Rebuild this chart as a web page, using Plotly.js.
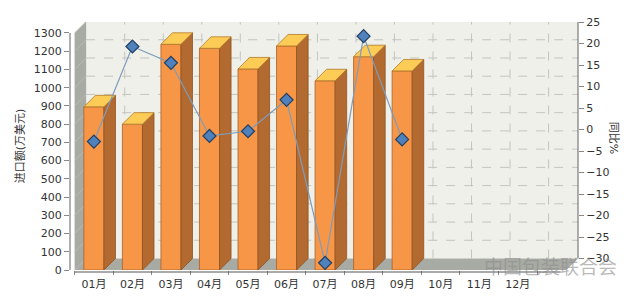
<!DOCTYPE html>
<html>
<head>
<meta charset="utf-8">
<script src="https://cdn.plot.ly/plotly-3.0.1.min.js"></script>
<style>
html,body{margin:0;padding:0;background:#fff;}
#chart{width:640px;height:302px;}
</style>
</head>
<body>
<div id="chart"></div>
<script>
// ---- data ----
const months = ['01月','02月','03月','04月','05月','06月','07月','08月','09月','10月','11月','12月'];
const importValues = [895, 800, 1238, 1216, 1103, 1229, 1038, 1170, 1092];
const yoyValues = [-2.8, 19.3, 15.5, -1.5, -0.4, 6.9, -31.0, 21.7, -2.3];
const leftTicks = [0,100,200,300,400,500,600,700,800,900,1000,1100,1200,1300];
const rightTicks = [-30,-25,-20,-15,-10,-5,0,5,10,15,20,25];

// ---- geometry (category units / left-axis units) ----
const DX = 0.30;      // depth offset in category units
const DY = 63;        // depth offset in left-axis units
const BW = 0.52;      // bar width
const XMIN = -0.62, XMAX = 12.564;
const YMAX = 1360.3;
const Y2MIN = -32.67, Y2MAX = 25;
const XL = -0.5, XR = XMAX - DX;
const LEFT_TOP = leftTicks[leftTicks.length-1];

const idx = importValues.map((_, i) => i);

// top and side faces of the 3D bars
const topX = [], topY = [], sideX = [], sideY = [];
importValues.forEach((v, i) => {
  const x0 = i - BW/2, x1 = i + BW/2;
  topX.push(x0, x1, x1+DX, x0+DX, x0, null);
  topY.push(v, v, v+DY, v+DY, v, null);
  sideX.push(x1, x1+DX, x1+DX, x1, x1, null);
  sideY.push(0, DY, v+DY, v, 0, null);
});

const traces = [
  {type:'bar', x: idx, y: importValues, width: BW, xaxis:'x', yaxis:'y',
   marker:{color:'#f79646', line:{color:'#a8612a', width:0.8}}, hoverinfo:'skip'},
  {type:'scatter', mode:'lines', x: sideX, y: sideY, fill:'toself', fillcolor:'#b36a30',
   line:{color:'#8f5322', width:0.8}, xaxis:'x', yaxis:'y', hoverinfo:'skip'},
  {type:'scatter', mode:'lines', x: topX, y: topY, fill:'toself', fillcolor:'#fdcc56',
   line:{color:'#b07a2a', width:0.8}, xaxis:'x', yaxis:'y', hoverinfo:'skip'},
  {type:'scatter', mode:'lines+markers', x: idx, y: yoyValues, xaxis:'x', yaxis:'y2',
   line:{color:'#7d9cbd', width:1.2},
   marker:{symbol:'diamond', size:10, color:'#4f81bd', line:{color:'#243f60', width:1.2}},
   cliponaxis:false, hoverinfo:'skip'}
];

const shapes = [];
// back wall
shapes.push({type:'rect', layer:'below', xref:'x', yref:'y', x0: XL+DX, x1: XMAX, y0: DY, y1: YMAX,
  fillcolor:'#f0f0ea', line:{width:0}});
// left wall
shapes.push({type:'path', layer:'below', xref:'x', yref:'y',
  path:`M ${XL},0 L ${XL},${LEFT_TOP} L ${XL+DX},${LEFT_TOP+DY} L ${XL+DX},${DY} Z`,
  fillcolor:'#a8aaa4', line:{width:0}});
// floor
shapes.push({type:'path', layer:'below', xref:'x', yref:'y',
  path:`M ${XL},0 L ${XR},0 L ${XMAX},${DY} L ${XL+DX},${DY} Z`,
  fillcolor:'#a8aaa4', line:{width:0}});
// horizontal grid on back wall + diagonal on left wall
leftTicks.slice(1).forEach(v => {
  shapes.push({type:'line', layer:'below', xref:'x', yref:'y', x0: XL+DX, x1: XMAX, y0: v+DY, y1: v+DY,
    line:{color:'#c4c4c0', width:1, dash:'dash'}});
  shapes.push({type:'line', layer:'below', xref:'x', yref:'y', x0: XL, x1: XL+DX, y0: v, y1: v+DY,
    line:{color:'#b8bab5', width:1}});
});
// vertical grid on back wall
for (let k = 1; k <= months.length; k++) {
  shapes.push({type:'line', layer:'below', xref:'x', yref:'y', x0: XL+k+DX, x1: XL+k+DX, y0: DY, y1: YMAX,
    line:{color:'#c4c4c0', width:1, dash:'dash'}});
}
// axis lines
shapes.push({type:'line', xref:'paper', yref:'y', x0:0, x1:0, y0:0, y1:LEFT_TOP,
  line:{color:'#7a7a7a', width:1.2}});
shapes.push({type:'line', xref:'paper', yref:'y2', x0:1, x1:1, y0:rightTicks[0], y1:rightTicks[rightTicks.length-1],
  line:{color:'#7a7a7a', width:1.2}});
shapes.push({type:'line', xref:'x', yref:'paper', x0:XL, x1:XR-0.15, y0:-0.008, y1:-0.008,
  line:{color:'#555', width:1.2}});

const font = {family:'DejaVu Sans, "Noto Sans CJK SC", sans-serif', size:11, color:'#333'};

const layout = {
  width:640, height:302,
  margin:{l:70, r:62, t:22, b:32, pad:0},
  paper_bgcolor:'#ffffff', plot_bgcolor:'rgba(0,0,0,0)',
  showlegend:false,
  font: font,
  xaxis:{range:[XMIN, XMAX], tickvals: months.map((_, i) => i), ticktext: months,
    showgrid:false, zeroline:false, showline:false, ticks:'', ticklabelstandoff:6,
    tickfont:{family:font.family, size:11, color:'#333'},
    minor:{tickvals: months.map((_, i) => i - 0.5).concat([months.length - 0.5]), ticks:'outside', ticklen:4, tickcolor:'#888', showgrid:false}},
  yaxis:{range:[0, YMAX], tickvals: leftTicks, showgrid:false, zeroline:false, showline:false,
    ticks:'outside', ticklen:5, tickcolor:'#888', tickfont:{family:font.family, size:11, color:'#333'},
    title:{text:'进口额(万美元)', font:{family:font.family, size:11, color:'#333'}, standoff:6}},
  yaxis2:{range:[Y2MIN, Y2MAX], overlaying:'y', side:'right', tickvals: rightTicks,
    ticktext: rightTicks.map(v => v < 0 ? '\u2212' + Math.abs(v) : String(v)),
    showgrid:false, zeroline:false, showline:false, ticks:'outside', ticklen:5, tickcolor:'#888',
    tickfont:{family:font.family, size:11, color:'#333'}},
  shapes: shapes,
  annotations:[
    {text:'同比%', xref:'paper', yref:'paper', x:1.07, y:0.535, xanchor:'center', yanchor:'middle',
     showarrow:false, textangle:90, font:{family:font.family, size:11, color:'#333'}},
    {text:'中国包装联合会', xref:'paper', yref:'paper', x:1.08, y:0.02, xanchor:'right', yanchor:'middle',
     showarrow:false, font:{family:'"Noto Sans CJK SC", sans-serif', size:19, color:'rgba(140,140,140,0.6)'}}
  ]
};

Plotly.newPlot('chart', traces, layout, {staticPlot:true, displayModeBar:false});
</script>
</body>
</html>
